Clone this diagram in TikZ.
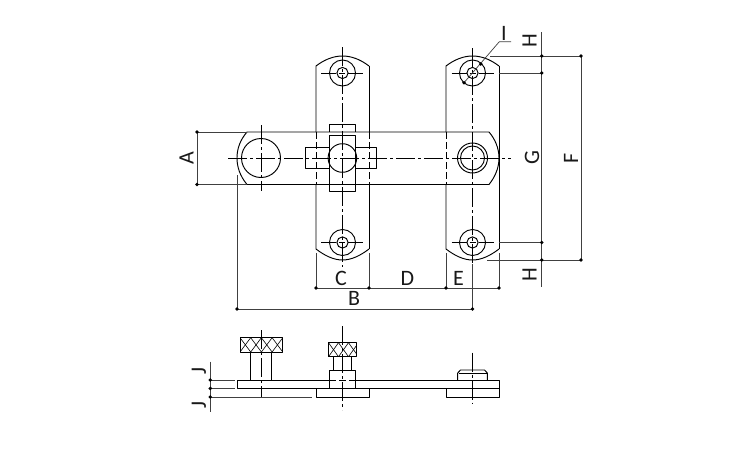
\documentclass[tikz,border=0pt]{standalone}
\usepackage{fontspec}
\setmainfont{Carlito}
\tikzset{
  part/.style={draw=black,line width=0.95pt,line join=round},
  dimline/.style={draw=black!75,line width=0.7pt},
  axisline/.style={draw=black,line width=0.55pt,dash pattern=on 19pt off 3pt on 3pt off 3pt},
  crossline/.style={draw=black,line width=0.55pt,dash pattern=on 15pt off 3pt on 6pt off 3pt},
  hiddenline/.style={draw=black,line width=0.6pt,dash pattern=on 7pt off 3pt},
  hatchline/.style={draw=black,line width=0.6pt},
  dimdot/.style={fill=black,draw=none},
  dimtext/.style={font=\fontsize{22}{22}\selectfont,inner sep=0pt,text=black!90}
}
\newcommand{\dimdots}[1]{\foreach \p in {#1}{\fill[dimdot] \p circle (1.9);}}
\begin{document}
\begin{tikzpicture}[x=1pt,y=-1pt]
\useasboundingbox (0,0) rectangle (750,450);
\fill[white] (0,0) rectangle (750,450);

% --- plan view: straps
\foreach \cx in {342.5,472.5}{
  \draw[part] (\cx-26.5,132) -- (\cx-26.5,66)
    .. controls (\cx-18,59.5) and (\cx-9,56) .. (\cx,56)
    .. controls (\cx+9,56) and (\cx+18,59.5) .. (\cx+26.5,66);
  \draw[part] (\cx-26.5,184.5) -- (\cx-26.5,249)
    .. controls (\cx-18,255.5) and (\cx-9,260) .. (\cx,260)
    .. controls (\cx+9,260) and (\cx+18,255.5) .. (\cx+26.5,249);
  \draw[hiddenline] (\cx-26.5,132) -- (\cx-26.5,184.5);
  \foreach \cy in {73,242.5}{
    \draw[part] (\cx,\cy) circle (13);
    \draw[part] (\cx,\cy) circle (5.6);
  }
}
% strap right sides
\draw[part] (369,66) -- (369,132);
\draw[part] (369,184.5) -- (369,249);
\draw[hiddenline] (369,132) -- (369,184.5);
\draw[part] (499,66) -- (499,249);

% bar
\draw[part] (489,132) -- (247,132)
  .. controls (240,140) and (237,149) .. (237,158)
  .. controls (237,167) and (240,176) .. (247,184.5)
  -- (489,184.5)
  .. controls (495,177) and (499,168) .. (499,158)
  .. controls (499,148) and (495,139) .. (489,132);
\draw[part] (261,158) circle (19.5);
\draw[part] (472.5,158) circle (15);
\draw[part] (472.5,158) circle (12);

% sliding latch
\draw[part] (329,132) -- (329,124.7) -- (355.7,124.7) -- (355.7,132);
\draw[part] (329,135) rectangle (355.7,191.7);
\draw[part] (329,147.7) -- (305,147.7) -- (305,168.7) -- (329,168.7);
\draw[part] (355.7,147.7) -- (376.7,147.7) -- (376.7,168.7) -- (355.7,168.7);
\draw[part] (342.4,158) circle (14.3);

% centre lines
\draw[axisline] (342.5,47) -- (342.5,267);
\draw[axisline] (228,158) -- (511,158);
\draw[axisline] (261,125) -- (261,191);
\draw[axisline] (472.5,48) -- (472.5,264);
\draw[crossline] (321,73) -- (363,73);
\draw[crossline] (321,242.5) -- (363,242.5);
\draw[crossline] (451.5,73) -- (493.5,73);
\draw[crossline] (451.5,242.5) -- (493.5,242.5);

% dimensions: A
\draw[dimline] (197,132) -- (247,132);
\draw[dimline] (197,184.5) -- (247,184.5);
\draw[dimline] (197,132) -- (197,184.5);
\dimdots{(197,132),(197,184.5)}
\node[dimtext,rotate=90] (labA) at (186.5,158) {A};
% B
\draw[dimline] (237,175) -- (237,309);
\draw[dimline] (472.5,264) -- (472.5,309);
\draw[dimline] (237,309) -- (472.5,309);
\dimdots{(237,309),(472.5,309)}
\node[dimtext] (labB) at (354,298.5) {B};
% C D E
\foreach \ex in {316,369,446,499}{\draw[dimline] (\ex,253) -- (\ex,288);}
\draw[dimline] (316,288) -- (499,288);
\dimdots{(316,288),(369,288),(446,288),(499,288)}
\node[dimtext] (labC) at (341,278) {C};
\node[dimtext] (labD) at (407.5,278) {D};
\node[dimtext] (labE) at (458.5,278) {E};
% F G H
\draw[dimline] (490,56) -- (581,56);
\draw[dimline] (487,260) -- (581,260);
\draw[dimline] (499,73) -- (541.7,73);
\draw[dimline] (499,242.5) -- (541.7,242.5);
\draw[dimline] (541.7,32) -- (541.7,287);
\draw[dimline] (581,56) -- (581,260);
\dimdots{(541.7,56),(541.7,73),(541.7,242.5),(541.7,260),(581,56),(581,260)}
\node[dimtext,rotate=90] (labHa) at (529.5,41) {H};
\node[dimtext,rotate=90] (labHb) at (529.5,274.5) {H};
\node[dimtext,rotate=90] (labG) at (532,158) {G};
\node[dimtext,rotate=90] (labF) at (571,158) {F};
% I
\draw[dimline] (464,82.7) -- (499.3,41.7) -- (511,41.7);
\dimdots{(464,82.7),(480.7,64)}
\node[dimtext] (labI) at (504,33) {I};

% --- side view
\draw[part] (237,380) rectangle (499,388.4);
\draw[part] (316,388.4) rectangle (369,397);
\draw[part] (446,388.4) rectangle (499,397);
% left knob
\draw[part] (250.7,352) -- (250.7,380);
\draw[part] (271.7,352) -- (271.7,380);
\begin{scope}
  \clip (240,337.7) rectangle (282.7,352);
  \foreach \k in {229.3,240,250.7,261.4,272.1,282.8}{
    \draw[hatchline] (\k,337.7) -- (\k+10.7,352);
    \draw[hatchline] (\k,352) -- (\k+10.7,337.7);
  }
\end{scope}
\draw[part] (240,337.7) rectangle (282.7,352);
% middle knob
\draw[part] (329,388.4) -- (329,370.7) -- (355.7,370.7) -- (355.7,388.4);
\draw[part] (333.3,370.7) -- (333.3,356.7);
\draw[part] (351.7,370.7) -- (351.7,356.7);
\begin{scope}
  \clip (328.3,342.7) rectangle (356.7,356.7);
  \foreach \k in {318.5,328.5,338.5,348.5,358.5}{
    \draw[hatchline] (\k,342.7) -- (\k+10,356.7);
    \draw[hatchline] (\k,356.7) -- (\k+10,342.7);
  }
\end{scope}
\draw[part] (328.3,342.7) rectangle (356.7,356.7);
\fill[white] (330,379) rectangle (355,381);
\draw[hiddenline] (329,380) -- (355.7,380);
% right stud
\draw[part] (457.7,380) -- (457.7,373) -- (460.5,370) -- (484.5,370) -- (487.3,373) -- (487.3,380);
\draw[part] (458.5,373) -- (486.5,373);
% side centre lines
\draw[axisline] (261,330) -- (261,397);
\draw[axisline] (342.5,326) -- (342.5,410);
\draw[axisline] (472.5,352.7) -- (472.5,403);
% J
\draw[dimline] (210.3,361.7) -- (210.3,411.7);
\draw[dimline] (210.3,380) -- (235,380);
\draw[dimline] (210.3,388.4) -- (235,388.4);
\draw[dimline] (210.3,397) -- (312,397);
\dimdots{(210.3,380),(210.3,388.4),(210.3,397)}
\node[dimtext,rotate=90] (labJa) at (199,371) {J};
\node[dimtext,rotate=90] (labJb) at (199,405) {J};
\end{tikzpicture}
\end{document}
